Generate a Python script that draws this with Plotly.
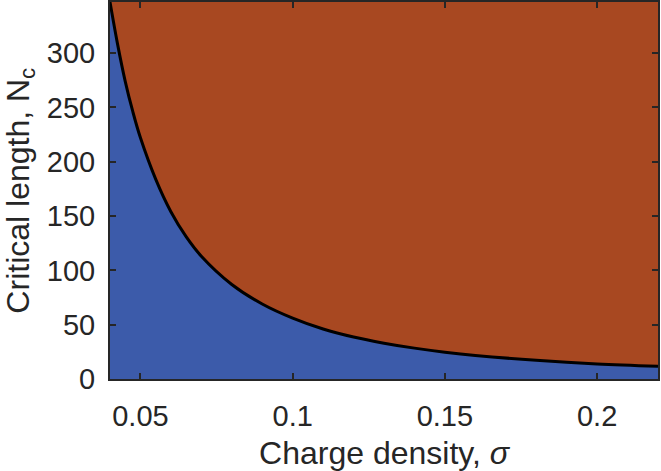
import plotly.graph_objects as go

# values
sigma = [0.040, 0.0425, 0.045, 0.0475, 0.050, 0.055, 0.060, 0.065, 0.070, 0.080,
         0.090, 0.100, 0.110, 0.120, 0.130, 0.140, 0.150, 0.160, 0.180, 0.200,
         0.220]
Nc = [347, 308, 274, 246, 222, 184, 154, 131, 113, 87,
      69, 56, 46, 38.6, 33, 28.4, 24.7, 21.7, 17.2, 13.9,
      11.8]

xticks = [0.05, 0.1, 0.15, 0.2]
xticklabels = ["0.05", "0.1", "0.15", "0.2"]

color_blue = "rgb(60,91,170)"
color_orange = "rgb(168,72,33)"
axis_color = "rgb(38,38,38)"

fig = go.Figure()
fig.add_trace(go.Scatter(
    x=sigma,
    y=Nc,
    mode="lines",
    line=dict(color="black", width=3, shape="spline", smoothing=1.0),
    fill="tozeroy",
    fillcolor=color_blue,
    showlegend=False,
))

fig.update_layout(
    width=661,
    height=471,
    margin=dict(l=110, r=3, t=2, b=92),
    paper_bgcolor="white",
    plot_bgcolor=color_orange,
    font=dict(family="Liberation Sans, Arial, sans-serif", color="rgb(38,38,38)", size=28),
)

fig.update_xaxes(
    range=[0.04, 0.22],
    tickmode="array",
    tickvals=xticks,
    ticktext=xticklabels,
    ticks="inside",
    ticklen=6,
    tickwidth=2,
    tickcolor=axis_color,
    showline=True,
    linecolor=axis_color,
    linewidth=2,
    mirror="ticks",
    showgrid=False,
    zeroline=False,
    automargin=False,
    ticklabelstandoff=10,
    tickfont=dict(size=29),
    title=dict(text="Charge density, <i>σ</i>", font=dict(size=32), standoff=12),
)
fig.update_yaxes(
    range=[0, 347],
    dtick=50,
    ticks="inside",
    ticklen=6,
    tickwidth=2,
    tickcolor=axis_color,
    showline=True,
    linecolor=axis_color,
    linewidth=2,
    mirror="ticks",
    showgrid=False,
    zeroline=False,
    automargin=False,
    ticklabelstandoff=7,
    tickfont=dict(size=29),
)

# y title as a rotated annotation so it can sit closer to the page edge
fig.add_annotation(
    text="Critical length, N<sub>c</sub>",
    xref="paper", yref="paper",
    x=-0.164, y=0.5,
    xanchor="center", yanchor="middle",
    textangle=-90,
    showarrow=False,
    font=dict(size=32),
)

# the page adds a default body margin; drop it so the figure sits at the corner
fig.write_html("out.html", config={"displayModeBar": False},
               post_script="document.body.style.margin='0';")
